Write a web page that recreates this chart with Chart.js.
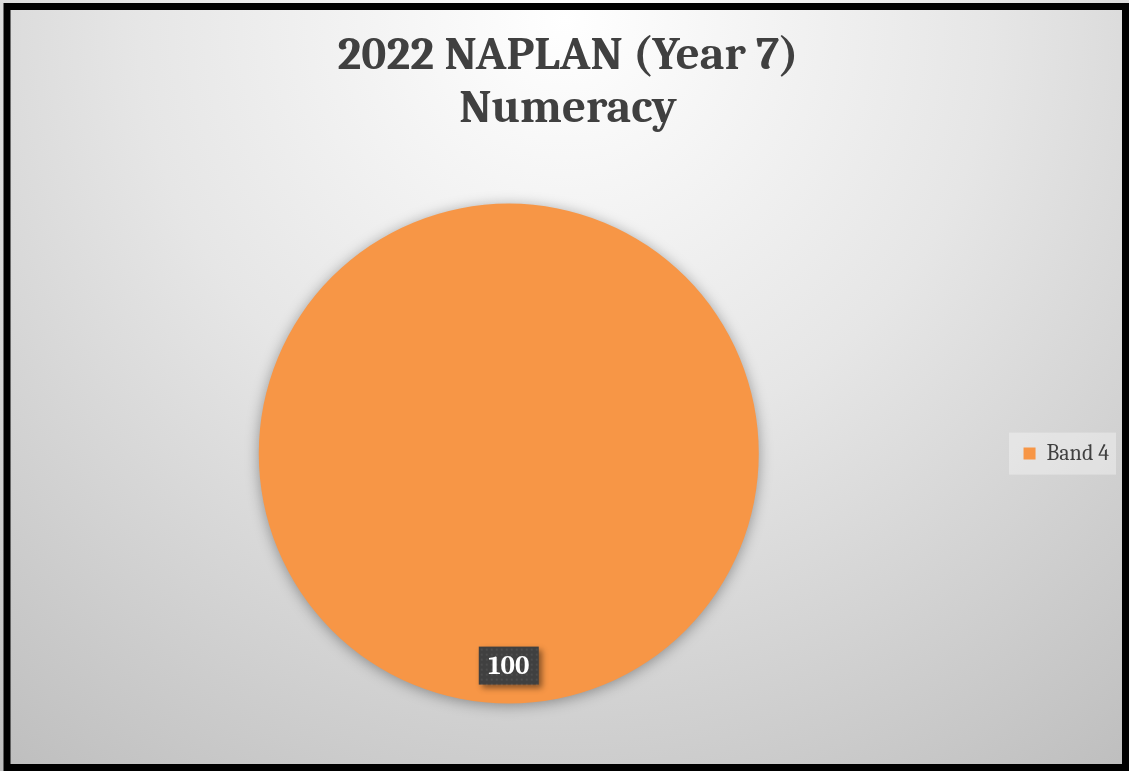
<!DOCTYPE html>
<html>
<head>
<meta charset="utf-8">
<script src="https://cdn.jsdelivr.net/npm/chart.js@4/dist/chart.umd.min.js"></script>
<style>
  html, body { margin: 0; padding: 0; background: #fff; }
  #wrap { position: relative; width: 1129px; height: 771px; }
</style>
</head>
<body>
<div id="wrap"><canvas id="naplanPie"></canvas></div>
<script>
// 2022 NAPLAN Year 7 numeracy results by band
var bands = ["Band 4"];
var percentages = [100];
var bandColours = ["#f79646"];
var titleLines = ["2022 NAPLAN (Year 7)", "Numeracy"];

var serif = "Cambria, 'Liberation Serif', 'DejaVu Serif', serif";

// grey radial background with a thick black frame
var backdrop = {
    id: "backdrop",
    beforeDraw: function (chart) {
        var ctx = chart.ctx;
        var w = chart.width, h = chart.height;
        ctx.save();
        var g = ctx.createRadialGradient(565, 20, 0, 565, 20, 950);
        g.addColorStop(0, "#ffffff");
        g.addColorStop(0.45, "#e6e6e6");
        g.addColorStop(1, "#bdbdbd");
        ctx.fillStyle = g;
        ctx.fillRect(0, 0, w, h);
        ctx.strokeStyle = "#000";
        ctx.lineWidth = 7;
        ctx.strokeRect(7, 6.5, w - 10.5, h - 10);
        ctx.restore();
    }
};

// soft shadow under the pie
var pieShadow = {
    id: "pieShadow",
    beforeDatasetDraw: function (chart) {
        var ctx = chart.ctx;
        ctx.save();
        ctx.shadowColor = "rgba(0,0,0,0.35)";
        ctx.shadowBlur = 14;
        ctx.shadowOffsetX = 0;
        ctx.shadowOffsetY = 2;
    },
    afterDatasetDraw: function (chart) {
        chart.ctx.restore();
    }
};

// light box behind the legend
var legendBox = {
    id: "legendBox",
    beforeDraw: function (chart) {
        var l = chart.legend;
        if (!l) return;
        var ctx = chart.ctx;
        var cy = (l.top + l.bottom) / 2;
        ctx.save();
        ctx.fillStyle = "rgba(255,255,255,0.35)";
        ctx.fillRect(1009, cy - 21, 107, 42);
        ctx.restore();
    }
};

// dark value label near the outer edge of each slice
var valueLabels = {
    id: "valueLabels",
    afterDatasetsDraw: function (chart) {
        var ctx = chart.ctx;
        var meta = chart.getDatasetMeta(0);
        meta.data.forEach(function (arc, i) {
            var p = arc.getProps(["x", "y", "startAngle", "endAngle", "outerRadius"], true);
            var mid = (p.startAngle + p.endAngle) / 2;
            var cx = p.x + Math.cos(mid) * p.outerRadius * 0.848;
            var cy = p.y + Math.sin(mid) * p.outerRadius * 0.848;
            var text = String(chart.data.datasets[0].data[i]);
            var bw = 60, bh = 38;
            ctx.save();
            ctx.shadowColor = "rgba(0,0,0,0.45)";
            ctx.shadowBlur = 6;
            ctx.shadowOffsetX = 3;
            ctx.shadowOffsetY = 3;
            ctx.fillStyle = "#404040";
            ctx.fillRect(cx - bw / 2, cy - bh / 2, bw, bh);
            ctx.restore();
            // dotted texture
            ctx.save();
            ctx.fillStyle = "rgba(255,255,255,0.07)";
            for (var yy = cy - bh / 2 + 2; yy < cy + bh / 2; yy += 5) {
                for (var xx = cx - bw / 2 + 2; xx < cx + bw / 2; xx += 5) {
                    ctx.fillRect(xx, yy, 2, 2);
                }
            }
            ctx.fillStyle = "#ffffff";
            ctx.font = "bold 27px " + serif;
            ctx.textAlign = "center";
            ctx.textBaseline = "middle";
            ctx.fillText(text, cx, cy + 1);
            ctx.restore();
        });
    }
};

var canvasElement = document.getElementById("naplanPie");
var config = {
    type: "pie",
    data: {
        labels: bands,
        datasets: [{
            data: percentages,
            backgroundColor: bandColours,
            borderWidth: 0,
            hoverOffset: 0
        }]
    },
    options: {
        responsive: true,
        maintainAspectRatio: false,
        animation: false,
        radius: 250,
        layout: {
            padding: { left: 17, right: 10, top: 20, bottom: 56 }
        },
        plugins: {
            title: {
                display: true,
                text: titleLines,
                color: "#404040",
                font: { family: serif, size: 47, weight: "bold", lineHeight: 1.13 },
                padding: { top: 9, bottom: 57 }
            },
            legend: {
                position: "right",
                fullSize: false,
                labels: {
                    color: "#404040",
                    font: { family: serif, size: 22 },
                    boxWidth: 12,
                    boxHeight: 12,
                    padding: 23
                }
            },
            tooltip: { enabled: false }
        }
    },
    plugins: [backdrop, legendBox, pieShadow, valueLabels]
};

var naplanChart = new Chart(canvasElement, config);
</script>
</body>
</html>
